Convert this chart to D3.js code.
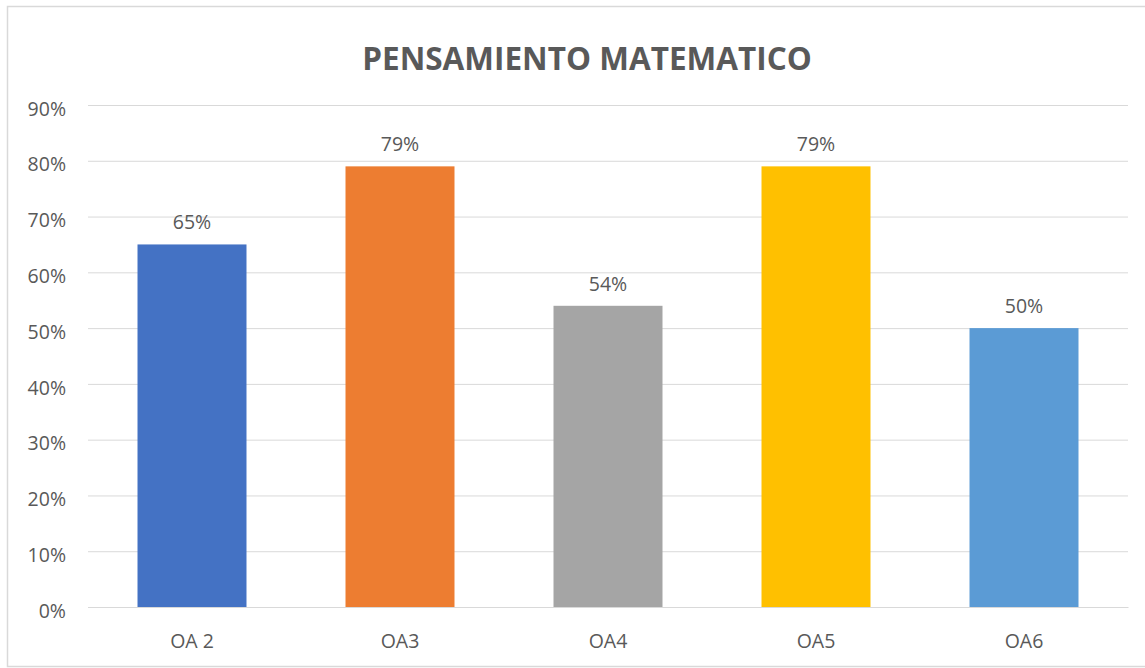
<!DOCTYPE html>
<html><head><meta charset="utf-8">
<script src="https://cdn.jsdelivr.net/npm/d3@7"></script>
<style>body{margin:0;background:#fff;}svg{display:block;font-family:"Open Sans",sans-serif;}</style>
</head><body><svg id="c" width="1145" height="668"></svg>
<script>
const categories = ["OA 2","OA3","OA4","OA5","OA6"];
const values = [0.65,0.79,0.54,0.79,0.50];
const colors = ["#4472C4","#ED7D31","#A5A5A5","#FFC000","#5B9BD5"];
const tickValues = [0,0.1,0.2,0.3,0.4,0.5,0.6,0.7,0.8,0.9];
const title = "PENSAMIENTO MATEMATICO";

const svg = d3.select("#c");
svg.append("rect").attr("x",7.5).attr("y",6.5).attr("width",1145).attr("height",660)
  .attr("fill","#fff").attr("stroke","#d9d9d9").attr("stroke-width",1.5);

const m = {left:88,right:1128,top:105,bottom:607};
const x = d3.scaleBand().domain(categories).range([m.left,m.right]).paddingInner(0.476).paddingOuter(0.238);
const y = d3.scaleLinear().domain([0,0.9]).range([m.bottom,m.top]);

svg.append("text").attr("x",587).attr("y",70).attr("text-anchor","middle")
  .attr("font-size",31.5).attr("font-weight","bold").attr("fill","#595959").text(title);

const g = svg.append("g").attr("transform",`translate(${m.left},0)`);
const yAxis = d3.axisLeft(y).tickValues(tickValues).tickFormat(d3.format(".0%")).tickSize(-(m.right-m.left)).tickPadding(22);
g.call(yAxis);
g.select(".domain").remove();
g.selectAll(".tick line").attr("stroke","#d9d9d9").attr("stroke-width",1);
g.selectAll(".tick text").attr("fill","#595959").attr("font-size",19.5).attr("font-family","Open Sans").attr("dy","0.52em");

svg.selectAll("rect.bar").data(values).enter().append("rect").attr("class","bar")
  .attr("x",(d,i)=>x(categories[i])).attr("y",d=>y(d))
  .attr("width",x.bandwidth()).attr("height",d=>y(0)-y(d))
  .attr("fill",(d,i)=>colors[i]);

svg.selectAll("text.lbl").data(values).enter().append("text").attr("class","lbl")
  .attr("x",(d,i)=>x(categories[i])+x.bandwidth()/2).attr("y",d=>y(d)-15)
  .attr("text-anchor","middle").attr("font-size",19.5).attr("fill","#595959")
  .text(d=>d3.format(".0%")(d));

const xg = svg.append("g").attr("transform",`translate(0,${m.bottom})`);
xg.call(d3.axisBottom(x).tickSize(0).tickPadding(27));
xg.select(".domain").attr("stroke","#d9d9d9");
xg.selectAll(".tick text").attr("fill","#595959").attr("font-size",19.5).attr("font-family","Open Sans");
</script></body></html>
